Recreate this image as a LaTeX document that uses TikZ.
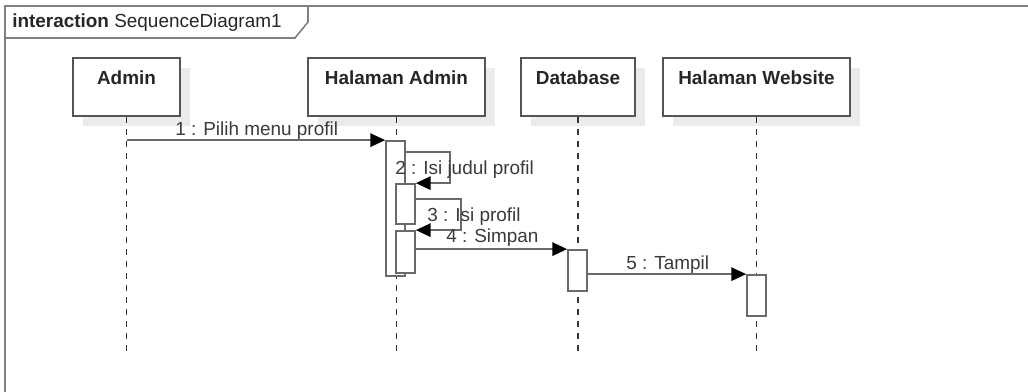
\documentclass[tikz,border=0pt]{standalone}
\usepackage{fontspec}
\setmainfont{Liberation Sans}
\usetikzlibrary{arrows.meta,calc}

\definecolor{framegray}{HTML}{808080}
\definecolor{boxgray}{HTML}{555555}
\definecolor{linegray}{HTML}{6A6A6A}
\definecolor{shadowgray}{HTML}{EBEBEB}
\definecolor{textgray}{HTML}{3A3A3A}

\tikzset{
  every node/.style={font=\fontsize{14.2}{16}\selectfont},
  head/.style={draw=boxgray, line width=1.3pt, fill=white, rectangle,
    inner sep=0pt, minimum height=43.5pt},
  headshadow/.style={fill=shadowgray, draw=none, rectangle, inner sep=0pt,
    minimum height=43.5pt},
  headtext/.style={anchor=base, inner sep=0pt, text=black!85, font=\fontsize{14.2}{16}\selectfont\bfseries},
  lifeline/.style={draw=black!80, line width=0.8pt, dash pattern=on 4.5pt off 4.5pt},
  actbar/.style={draw=linegray, line width=1.3pt, fill=white, rectangle,
    inner sep=0pt, minimum width=14.25pt},
  msg/.style={draw=linegray, line width=1.3pt,
    -{Triangle[length=11pt,width=10pt,fill=black,color=black]}},
  msglabel/.style={anchor=base west, inner sep=0pt, text=textgray},
}

\begin{document}
\begin{tikzpicture}[x=0.75pt, y=-0.75pt]
\useasboundingbox (0,0) rectangle (1028,392);

% frame and its name tab
\draw[framegray, line width=1.5pt] (5,400) -- (5,6) -- (1040,6);
\draw[framegray, line width=1.2pt] (5,38) -- (295,38) -- (308,22) -- (308,6);
\node[anchor=base west, inner sep=0pt, text=black!85] (frametitle) at (12,28)
  {\textbf{interaction} SequenceDiagram1};

% lifeline heads with their shadows
\node[headshadow, minimum width=80.25pt]  (adminS) at (136.5,97)  {};
\node[headshadow, minimum width=132.75pt] (hadminS) at (406.5,97) {};
\node[headshadow, minimum width=85.5pt]   (dbS) at (588,97)       {};
\node[headshadow, minimum width=140.25pt] (webS) at (766.5,97)    {};

\node[head, minimum width=80.25pt]  (admin)  at (126.5,87) {};
\node[head, minimum width=132.75pt] (hadmin) at (396.5,87) {};
\node[head, minimum width=85.5pt]   (db)     at (578,87)   {};
\node[head, minimum width=140.25pt] (web)    at (756.5,87) {};

\node[headtext] (adminT)  at (126.5,85) {Admin};
\node[headtext] (hadminT) at (396.5,85) {Halaman Admin};
\node[headtext] (dbT)     at (578,85)   {Database};
\node[headtext] (webT)    at (756.5,85) {Halaman Website};

% lifelines
\coordinate (adminE)  at (126.5,352);
\coordinate (hadminE) at (396.5,352);
\coordinate (dbE)     at (578,352);
\coordinate (webE)    at (756.5,352);
\draw[lifeline] (admin.south)  -- (admin.south |- adminE);
\draw[lifeline] (hadmin.south) -- (hadmin.south |- hadminE);
\draw[lifeline] (db.south)     -- (db.south |- dbE);
\draw[lifeline] (web.south)    -- (web.south |- webE);

% activation bars
\node[actbar, minimum height=101.25pt] (a1) at (395.5,208.5) {};
\node[actbar, minimum height=30pt]     (a2) at (405.5,204)   {};
\node[actbar, minimum height=31.5pt]   (a3) at (405.5,252)   {};
\node[actbar, minimum height=30.75pt]  (d1) at (577.5,270.5) {};
\node[actbar, minimum height=30.75pt]  (w1) at (756.5,295.5) {};

% messages
\draw[msg] (admin.south |- a1.north west) -- (a1.north west);
\draw[msg] ($(a1.north east)+(0,12)$) -- ++(44,0) |- (a2.north east);
\draw[msg] ($(a2.north east)+(0,16)$) -- ++(45,0) |- (a3.north east);
\draw[msg] (a3.east |- d1.north west) -- (d1.north west);
\draw[msg] (d1.east |- w1.north west) -- (w1.north west);

% message labels
\node[msglabel] (m1) at (175,136) {1 : Pilih menu profil};
\node[msglabel] (m2) at (395,175) {2 : Isi judul profil};
\node[msglabel] (m3) at (427,222) {3 : Isi profil};
\node[msglabel] (m4) at (446,243) {4 : Simpan};
\node[msglabel] (m5) at (626,269) {5 : Tampil};
\end{tikzpicture}
\end{document}
